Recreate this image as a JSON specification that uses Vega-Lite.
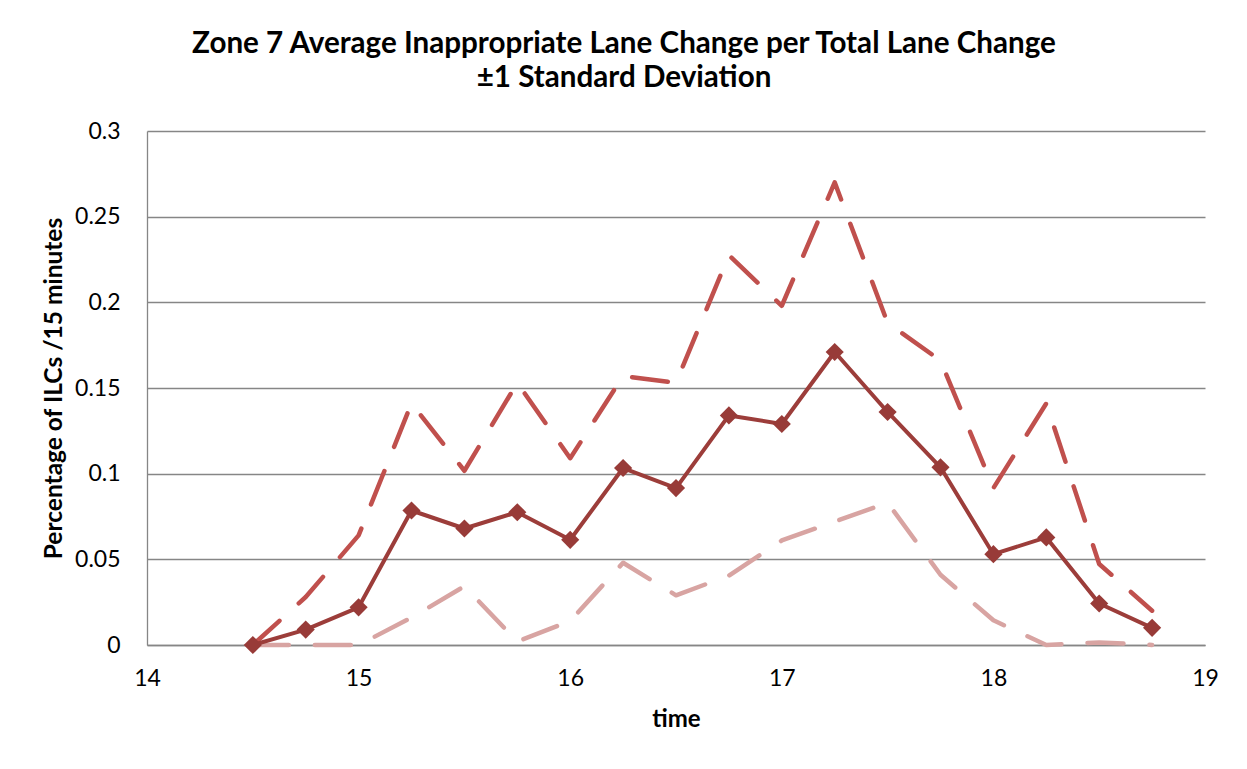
{
  "$schema": "https://vega.github.io/schema/vega-lite/v6.json",
  "width": 1058,
  "height": 514,
  "autosize": {"type": "none"},
  "padding": {"left": 147, "top": 131, "right": 42, "bottom": 124},
  "background": "white",
  "config": {"font": "Lato", "view": {"stroke": null}},
  "title": {
    "text": ["Zone 7 Average Inappropriate Lane Change per Total Lane Change", "±1 Standard Deviation"],
    "fontSize": 29.6,
    "fontWeight": "bold",
    "color": "black",
    "anchor": "middle",
    "dx": -52,
    "offset": 26,
    "lineHeight": 34
  },
  "data": {
    "values": [
      {"time": 14.5, "mean": 0, "upper": 0, "lower": 0},
      {"time": 14.75, "mean": 0.009, "upper": 0.028, "lower": 0},
      {"time": 15, "mean": 0.022, "upper": 0.064, "lower": 0},
      {"time": 15.25, "mean": 0.0785, "upper": 0.141, "lower": 0.016},
      {"time": 15.5, "mean": 0.068, "upper": 0.1017, "lower": 0.0343},
      {"time": 15.75, "mean": 0.0775, "upper": 0.153, "lower": 0.002},
      {"time": 16, "mean": 0.0614, "upper": 0.109, "lower": 0.014},
      {"time": 16.25, "mean": 0.1033, "upper": 0.157, "lower": 0.048},
      {"time": 16.5, "mean": 0.0916, "upper": 0.153, "lower": 0.029},
      {"time": 16.75, "mean": 0.134, "upper": 0.2275, "lower": 0.0405},
      {"time": 17, "mean": 0.129, "upper": 0.198, "lower": 0.061},
      {"time": 17.25, "mean": 0.171, "upper": 0.27, "lower": 0.072},
      {"time": 17.5, "mean": 0.136, "upper": 0.188, "lower": 0.083},
      {"time": 17.75, "mean": 0.1037, "upper": 0.166, "lower": 0.041},
      {"time": 18, "mean": 0.053, "upper": 0.0916, "lower": 0.0144},
      {"time": 18.25, "mean": 0.0628, "upper": 0.141, "lower": 0},
      {"time": 18.5, "mean": 0.0242, "upper": 0.0473, "lower": 0.0015},
      {"time": 18.75, "mean": 0.01, "upper": 0.02, "lower": 0}
    ]
  },
  "encoding": {
    "x": {
      "field": "time",
      "type": "quantitative",
      "scale": {"domain": [14, 19], "nice": false, "zero": false},
      "axis": {
        "values": [14, 15, 16, 17, 18, 19],
        "format": "d",
        "grid": false,
        "ticks": false,
        "labelFlush": false,
        "domainColor": "#868686",
        "domainWidth": 1.3,
        "labelFontSize": 23,
        "labelColor": "black",
        "labelPadding": 22,
        "title": "time",
        "titleFontSize": 24,
        "titleFontWeight": "bold",
        "titleColor": "black",
        "titlePadding": 17
      }
    }
  },
  "layer": [
    {
      "mark": {"type": "line", "color": "#C0504D", "strokeWidth": 4.5, "strokeCap": "round", "strokeJoin": "round", "strokeDash": [36, 26]},
      "encoding": {
        "y": {
          "field": "upper",
          "type": "quantitative",
          "scale": {"domain": [0, 0.3], "nice": false},
          "axis": {
            "values": [0, 0.05, 0.1, 0.15, 0.2, 0.25, 0.3],
            "format": ".2~f",
            "grid": true,
            "gridColor": "#868686",
            "gridWidth": 1.3,
            "ticks": false,
            "domainColor": "#868686",
            "domainWidth": 1.3,
            "labelFontSize": 23,
            "labelColor": "black",
            "labelPadding": 27,
            "title": "Percentage of ILCs /15 minutes",
            "titleFontSize": 24.5,
            "titleFontWeight": "bold",
            "titleColor": "black",
            "titlePadding": 8
          }
        }
      }
    },
    {
      "mark": {"type": "line", "color": "#D8A4A2", "strokeWidth": 4.5, "strokeCap": "round", "strokeJoin": "round", "strokeDash": [36, 26]},
      "encoding": {"y": {"field": "lower", "type": "quantitative"}}
    },
    {
      "mark": {"type": "line", "color": "#9C3D3A", "strokeWidth": 4, "strokeJoin": "round"},
      "encoding": {"y": {"field": "mean", "type": "quantitative"}}
    },
    {
      "mark": {"type": "point", "shape": "diamond", "filled": true, "size": 330, "color": "#983B38", "opacity": 1},
      "encoding": {"y": {"field": "mean", "type": "quantitative"}}
    }
  ]
}
